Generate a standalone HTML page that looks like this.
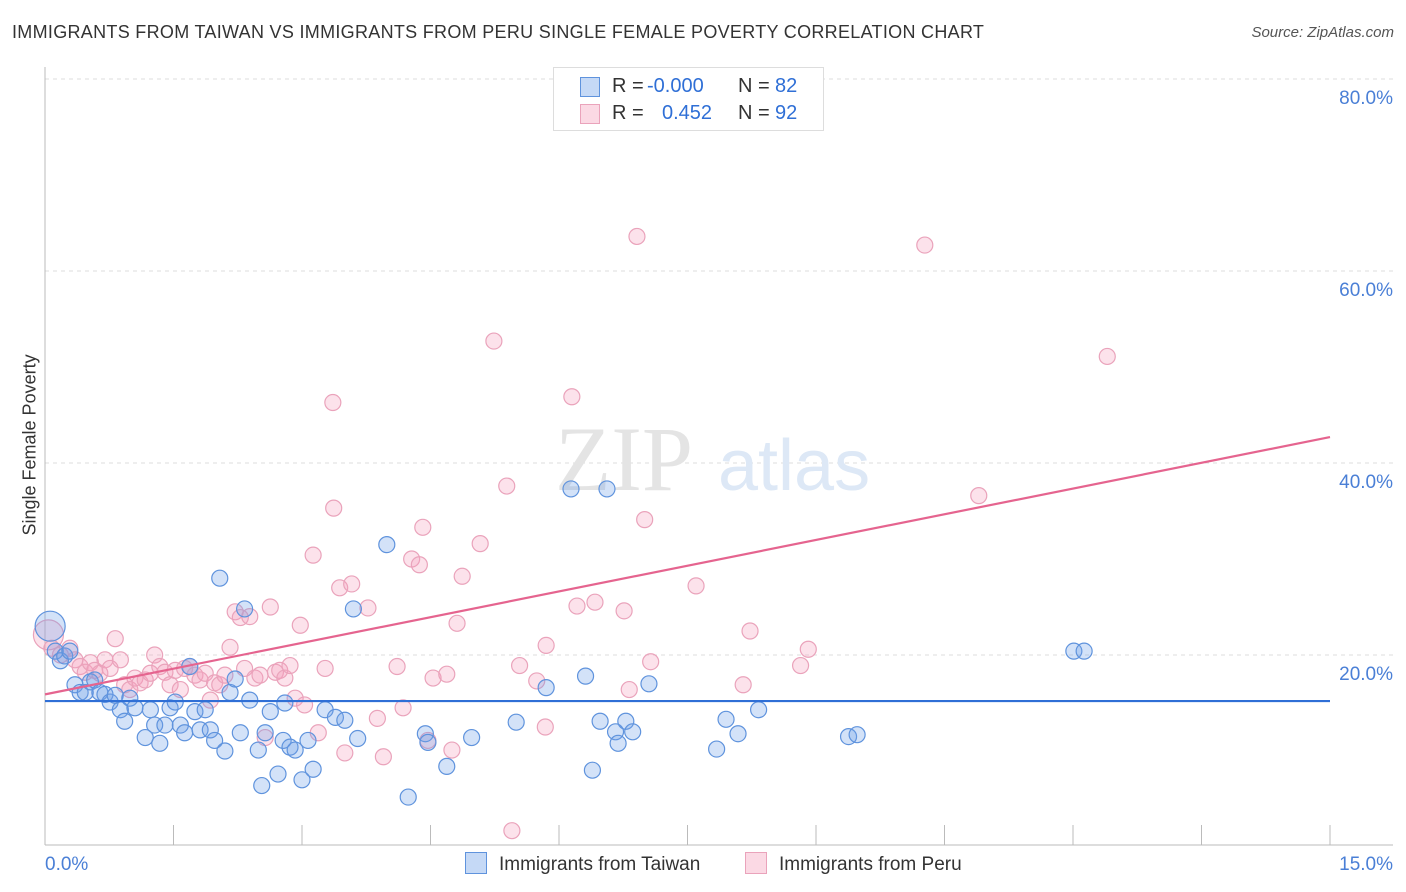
<!DOCTYPE html>
<html><head><meta charset="utf-8">
<style>
body{margin:0;background:#fff;font-family:"Liberation Sans",sans-serif;}
#wrap{position:relative;width:1406px;height:892px;overflow:hidden;}
.t{position:absolute;white-space:nowrap;}
</style></head>
<body>
<div id="wrap">
<div class="t" style="left:12px;top:22px;font-size:18px;color:#333;letter-spacing:0.3px;">IMMIGRANTS FROM TAIWAN VS IMMIGRANTS FROM PERU SINGLE FEMALE POVERTY CORRELATION CHART</div>
<div class="t" style="right:12px;top:24px;font-size:15px;color:#555;font-style:italic;">Source: ZipAtlas.com</div>
<div class="t" style="left:-50px;top:445px;font-size:18px;color:#333;transform:rotate(-90deg);width:160px;text-align:center;">Single Female Poverty</div>
<svg id="svg" width="1406" height="892" style="position:absolute;left:0;top:0;"></svg>
</div>
<script>
const xTicks=[0,1.5,3,4.5,6,7.5,9,10.5,12,13.5,15];
const yTicks=[20,40,60,80];
const yTickLabels=["20.0%","40.0%","60.0%","80.0%"];
const taiwanX=[0.06,0.12,0.18,0.23,0.29,0.35,0.41,0.47,0.53,0.58,0.64,0.70,0.76,0.82,0.88,0.93,0.99,1.05,1.17,1.23,1.28,1.34,1.40,1.46,1.52,1.58,1.63,1.69,1.75,1.81,1.87,1.93,1.98,2.04,2.10,2.16,2.22,2.28,2.33,2.39,2.49,2.53,2.57,2.63,2.72,2.78,2.80,2.86,2.92,3.00,3.07,3.13,3.27,3.39,3.50,3.60,3.65,3.99,4.24,4.44,4.47,4.69,4.98,5.50,5.85,6.14,6.31,6.39,6.48,6.56,6.66,6.69,6.78,6.86,7.05,7.84,7.95,8.09,8.33,9.38,9.48,12.01,12.13];
const taiwanY=[23.0,20.4,19.4,19.9,20.4,16.9,16.1,16.1,17.2,17.4,16.1,15.9,15.1,15.8,14.3,13.1,15.5,14.5,11.4,14.3,12.7,10.8,12.7,14.5,15.1,12.7,11.9,18.8,14.1,12.2,14.3,12.2,11.1,28.0,10.0,16.1,17.5,11.9,24.8,15.3,10.1,6.4,11.9,14.1,7.6,11.1,15.0,10.4,10.1,7.0,11.1,8.1,14.3,13.5,13.2,24.8,11.3,31.5,5.2,11.8,10.9,8.4,11.4,13.0,16.6,37.3,17.8,8.0,13.1,37.3,12.0,10.8,13.1,12.0,17.0,10.2,13.3,11.8,14.3,11.5,11.7,20.4,20.4];
const peruX=[0.04,0.08,0.18,0.29,0.35,0.41,0.47,0.53,0.58,0.64,0.70,0.76,0.82,0.88,0.93,0.99,1.05,1.11,1.17,1.23,1.28,1.34,1.40,1.46,1.52,1.58,1.63,1.69,1.75,1.81,1.87,1.93,1.98,2.04,2.10,2.16,2.22,2.28,2.33,2.39,2.45,2.51,2.57,2.63,2.69,2.74,2.80,2.86,2.92,2.98,3.03,3.13,3.19,3.27,3.36,3.37,3.44,3.50,3.58,3.77,3.88,3.95,4.11,4.18,4.28,4.37,4.41,4.47,4.53,4.69,4.75,4.81,4.87,5.08,5.24,5.39,5.45,5.54,5.74,5.84,5.85,6.15,6.21,6.42,6.76,6.82,6.91,7.00,7.07,7.60,8.15,8.23,8.82,8.91,10.27,10.90,12.40];
const peruY=[22.1,20.7,20.0,20.7,19.5,18.8,18.2,19.2,18.4,18.1,19.5,18.6,21.7,19.5,16.9,16.4,17.6,17.1,17.4,18.1,20.0,18.8,18.2,16.9,18.4,16.4,18.6,18.8,17.9,17.4,18.1,15.3,17.1,16.9,17.9,20.8,24.5,23.9,18.6,24.0,17.6,17.9,11.4,25.0,18.2,18.4,17.6,18.9,15.5,23.1,14.8,30.4,11.9,18.6,46.3,35.3,27.0,9.8,27.4,24.9,13.4,9.4,18.8,14.5,30.0,29.4,33.3,11.1,17.6,18.0,10.1,23.3,28.2,31.6,52.7,37.6,1.7,18.9,17.3,12.5,21.0,46.9,25.1,25.5,24.6,16.4,63.6,34.1,19.3,27.2,16.9,22.5,18.9,20.6,62.7,36.6,51.1];
const blueLine=[15.2,15.2];
const pinkLine=[15.9,42.7];
const svg=document.getElementById('svg');
const NS='http://www.w3.org/2000/svg';
const X0=45,X1=1330,Y0=847,Y80=79;
const xs=v=>X0+(v/15)*(X1-X0);
const ys=v=>Y0-(v/80)*(Y0-Y80);
function mk(tag,attrs,parent){const e=document.createElementNS(NS,tag);for(const k in attrs)e.setAttribute(k,attrs[k]);(parent||svg).appendChild(e);return e;}
yTicks.forEach((t,i)=>{
 const g=mk('line',{x1:45,x2:1393,y1:ys(t),y2:ys(t),stroke:'#ddd','stroke-dasharray':'4,4'});
 
 
 const tx=mk('text',{x:1393,y:ys(t)+25,'text-anchor':'end','font-size':19,fill:'#4a7fd6','font-family':'Liberation Sans, sans-serif'});
 tx.textContent=yTickLabels[i];
 
 
});
const ax=mk('line',{x1:45,x2:45,y1:67,y2:845,stroke:'#bbb'});


const bx=mk('line',{x1:45,x2:1393,y1:845,y2:845,stroke:'#bbb'});


xTicks.forEach(t=>{
 const l=mk('line',{x1:xs(t),x2:xs(t),y1:825,y2:845,stroke:'#bbb'});
 
 
});
const wm=mk('text',{x:555,y:490,'font-size':92,fill:'#e4e4e4','font-family':'Liberation Serif, serif'});
wm.textContent='ZIP';


const wm2=mk('text',{x:718,y:490,'font-size':72,fill:'#dde8f6','font-family':'Liberation Sans, sans-serif'});
wm2.textContent='atlas';


function dots(X,Y,fill,stroke,name){
 X.forEach((x,i)=>{const r=i==0?15:8;
  const c=mk('circle',{cx:xs(x),cy:ys(Y[i]),r:r,fill:fill,stroke:stroke,'stroke-width':1.2});
  
  
 });
}
dots(peruX,peruY,'rgba(244,160,188,0.3)','#eaa3bb','peru-point');
dots(taiwanX,taiwanY,'rgba(110,160,232,0.3)','#5f93dd','taiwan-point');
const bl=mk('line',{x1:xs(0),x2:xs(15),y1:ys(blueLine[0]),y2:ys(blueLine[1]),stroke:'#2f6fd6','stroke-width':2.2});


const pl=mk('line',{x1:xs(0),x2:xs(15),y1:ys(pinkLine[0]),y2:ys(pinkLine[1]),stroke:'#e5648f','stroke-width':2.2});


const xl0=mk('text',{x:45,y:870,'font-size':19,fill:'#4a7fd6','font-family':'Liberation Sans, sans-serif'});
xl0.textContent='0.0%';


const xl1=mk('text',{x:1393,y:870,'text-anchor':'end','font-size':19,fill:'#4a7fd6','font-family':'Liberation Sans, sans-serif'});
xl1.textContent='15.0%';


</script>
<div style="position:absolute;left:553px;top:67px;width:269px;height:62px;border:1px solid #ddd;background:#fff;font-size:20px;color:#333;">
 <div style="position:absolute;left:26px;top:9px;width:18px;height:18px;background:rgba(110,160,232,0.4);border:1px solid #5f93dd;"></div>
 <div class="t" style="left:58px;top:7px;">R =</div>
 <div class="t" style="left:93px;top:7px;color:#2f6fd6;">-0.000</div>
 <div class="t" style="left:184px;top:7px;">N =</div>
 <div class="t" style="left:221px;top:7px;color:#2f6fd6;">82</div>
 <div style="position:absolute;left:26px;top:36px;width:18px;height:18px;background:rgba(244,160,188,0.4);border:1px solid #eaa3bb;"></div>
 <div class="t" style="left:58px;top:34px;">R =</div>
 <div class="t" style="left:108px;top:34px;color:#2f6fd6;">0.452</div>
 <div class="t" style="left:184px;top:34px;">N =</div>
 <div class="t" style="left:221px;top:34px;color:#2f6fd6;">92</div>
</div>
<div style="position:absolute;left:465px;top:852px;font-size:19px;color:#333;">
 <div style="position:absolute;left:0;top:0;white-space:nowrap;"><span style="display:inline-block;width:20px;height:20px;background:rgba(110,160,232,0.4);border:1px solid #5f93dd;vertical-align:-4px;margin-right:12px;"></span>Immigrants from Taiwan</div>
 <div style="position:absolute;left:280px;top:0;white-space:nowrap;"><span style="display:inline-block;width:20px;height:20px;background:rgba(244,160,188,0.4);border:1px solid #eaa3bb;vertical-align:-4px;margin-right:12px;"></span>Immigrants from Peru</div>
</div>
</body></html>
